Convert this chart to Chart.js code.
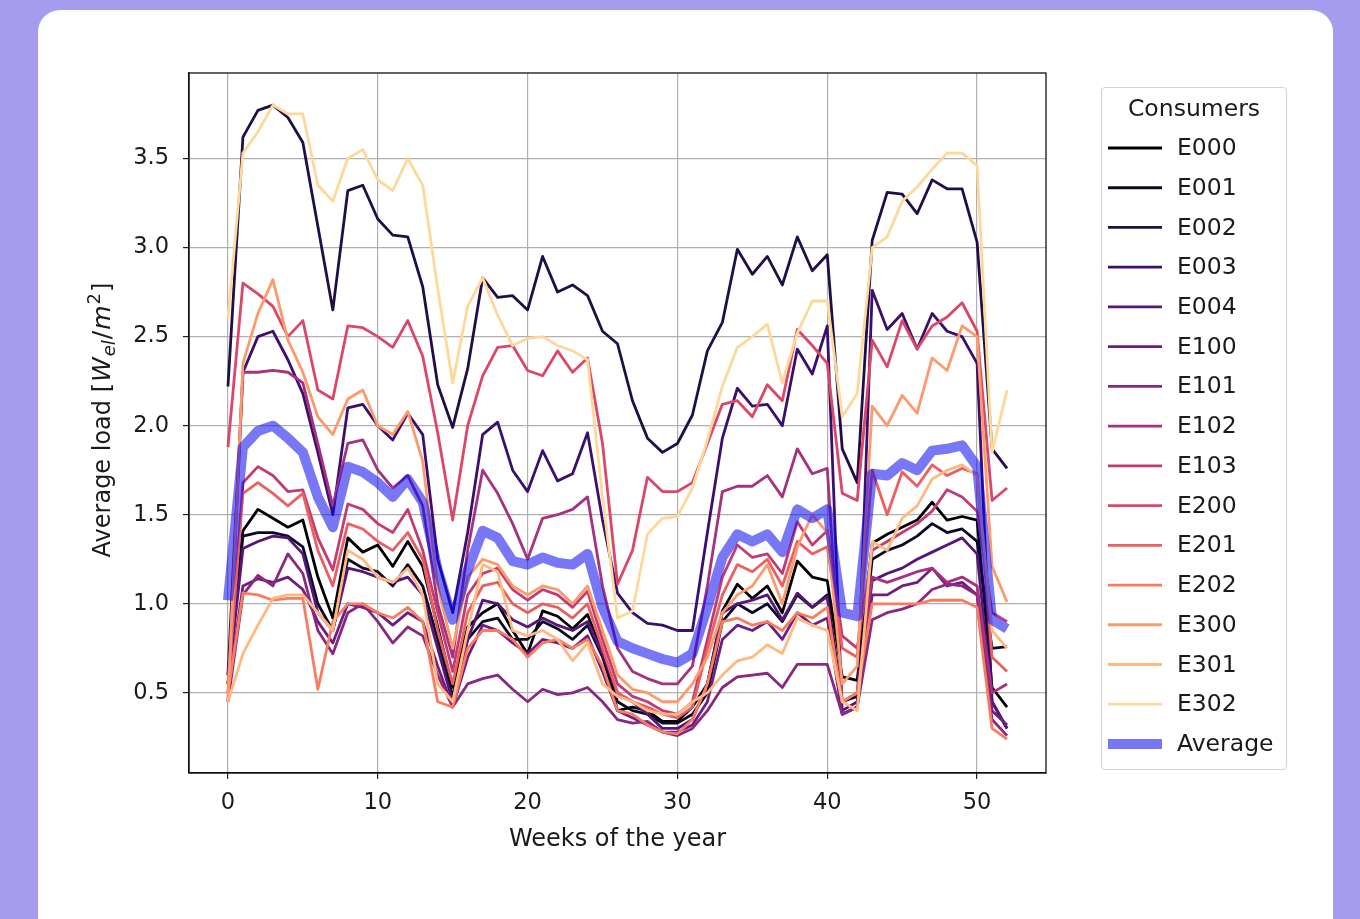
<!DOCTYPE html>
<html>
<head>
<meta charset="utf-8">
<script src="https://cdn.jsdelivr.net/npm/chart.js@4"></script>
<style>
html,body{margin:0;padding:0;background:#a59bef;}
body{width:1360px;height:919px;overflow:hidden;position:relative;}
.card{position:absolute;left:38px;top:10px;width:1295px;height:960px;background:#fff;border-radius:22px;}
#c{position:absolute;left:0;top:0;}
</style>
</head>
<body>
<div class="card"></div>
<canvas id="c" width="1360" height="919"></canvas>
<script>
// weeks on the x axis
const weeks = [0,1,2,3,4,5,6,7,8,9,10,11,12,13,14,15,16,17,18,19,20,21,22,23,24,25,26,27,28,29,30,31,32,33,34,35,36,37,38,39,40,41,42,43,44,45,46,47,48,49,50,51,52];
const xTicks = [0,10,20,30,40,50];
const yTicks = [0.5,1.0,1.5,2.0,2.5,3.0,3.5];

// average load per consumer [W_el/m2]
const E000 = [0.60,1.41,1.53,1.48,1.43,1.47,1.15,0.92,1.37,1.29,1.33,1.21,1.35,1.21,0.87,0.53,0.87,0.95,1.00,0.85,0.72,0.96,0.93,0.86,0.94,0.72,0.40,0.42,0.40,0.34,0.34,0.42,0.55,0.96,1.11,1.03,1.10,0.95,1.24,1.15,1.13,0.59,0.57,1.34,1.39,1.43,1.47,1.57,1.47,1.49,1.47,0.53,0.42];
const E001 = [0.55,1.38,1.40,1.40,1.38,1.32,1.00,0.85,1.25,1.20,1.18,1.10,1.22,1.10,0.80,0.48,0.80,0.90,0.92,0.80,0.80,0.90,0.86,0.80,0.88,0.70,0.45,0.40,0.38,0.33,0.33,0.38,0.50,0.90,1.00,0.95,1.00,0.90,1.05,0.98,1.05,0.45,0.48,1.25,1.30,1.33,1.38,1.45,1.40,1.42,1.35,0.75,0.76];
const E002 = [2.22,3.62,3.77,3.80,3.73,3.59,3.12,2.65,3.32,3.35,3.16,3.07,3.06,2.78,2.23,1.99,2.32,2.83,2.72,2.73,2.65,2.95,2.75,2.79,2.73,2.53,2.46,2.14,1.93,1.85,1.90,2.06,2.42,2.58,2.99,2.85,2.95,2.79,3.06,2.87,2.96,1.87,1.68,3.04,3.31,3.30,3.19,3.38,3.33,3.33,3.03,1.87,1.76];
const E003 = [0.60,2.30,2.50,2.53,2.37,2.18,1.85,1.50,2.10,2.12,2.00,1.92,2.07,1.95,1.25,0.95,1.40,1.95,2.02,1.75,1.63,1.86,1.69,1.73,1.96,1.47,1.06,0.95,0.89,0.88,0.85,0.85,1.40,1.93,2.21,2.11,2.12,2.00,2.43,2.29,2.56,0.38,0.42,2.76,2.54,2.63,2.43,2.63,2.53,2.50,2.35,0.45,0.30];
const E004 = [0.55,1.31,1.35,1.38,1.37,1.28,0.95,0.85,1.20,1.18,1.15,1.12,1.15,1.05,0.75,0.45,0.80,1.02,1.00,0.91,0.87,0.92,0.88,0.85,0.90,0.72,0.50,0.45,0.38,0.30,0.30,0.35,0.55,0.95,1.00,1.02,1.05,0.91,1.06,0.98,1.04,0.40,0.45,1.13,1.17,1.20,1.25,1.29,1.33,1.37,1.28,0.45,0.30];
const E100 = [0.50,1.10,1.14,1.12,1.15,1.08,0.90,0.78,1.00,0.98,0.95,0.88,0.95,0.90,0.65,0.42,0.70,0.88,0.85,0.78,0.72,0.80,0.78,0.75,0.82,0.62,0.40,0.36,0.32,0.28,0.28,0.32,0.45,0.80,0.88,0.85,0.90,0.80,0.95,0.88,0.92,0.38,0.42,1.05,1.05,1.10,1.12,1.20,1.10,1.12,1.05,0.40,0.32];
const E101 = [0.45,1.05,1.16,1.10,1.28,1.17,0.85,0.72,0.95,1.00,0.90,0.78,0.87,0.82,0.60,0.42,0.55,0.58,0.60,0.52,0.45,0.52,0.49,0.50,0.53,0.45,0.35,0.33,0.34,0.28,0.26,0.30,0.40,0.53,0.59,0.60,0.61,0.53,0.66,0.66,0.66,0.38,0.42,0.91,0.95,0.97,1.00,1.08,1.11,1.10,1.05,0.35,0.26];
const E102 = [0.45,2.30,2.30,2.31,2.30,2.24,1.90,1.55,1.90,1.92,1.75,1.65,1.72,1.55,1.00,0.70,1.30,1.75,1.62,1.45,1.25,1.48,1.50,1.53,1.60,1.10,0.75,0.62,0.58,0.55,0.55,0.65,1.10,1.63,1.66,1.66,1.72,1.60,1.87,1.73,1.76,0.45,0.50,1.15,1.12,1.15,1.18,1.20,1.12,1.15,1.10,0.50,0.55];
const E103 = [0.50,1.68,1.77,1.72,1.63,1.64,1.37,1.19,1.56,1.53,1.45,1.40,1.53,1.30,0.95,0.62,1.05,1.17,1.20,1.08,1.02,1.08,1.05,0.98,1.07,0.80,0.55,0.48,0.45,0.40,0.38,0.45,0.80,1.15,1.33,1.26,1.28,1.17,1.46,1.33,1.41,0.82,0.75,1.30,1.35,1.40,1.45,1.52,1.64,1.60,1.52,0.95,0.90];
const E200 = [1.88,2.80,2.74,2.67,2.50,2.59,2.20,2.15,2.56,2.55,2.50,2.44,2.59,2.39,1.96,1.47,2.00,2.28,2.44,2.45,2.31,2.28,2.42,2.30,2.38,1.90,1.11,1.30,1.71,1.63,1.63,1.68,1.90,2.12,2.14,2.05,2.23,2.14,2.54,2.45,2.35,1.62,1.58,2.48,2.33,2.59,2.43,2.56,2.61,2.69,2.53,1.58,1.65];
const E201 = [0.55,1.62,1.68,1.62,1.55,1.62,1.30,1.10,1.45,1.42,1.35,1.30,1.40,1.25,0.85,0.55,0.95,1.10,1.12,1.00,0.95,1.00,0.98,0.92,1.00,0.75,0.50,0.45,0.42,0.38,0.36,0.42,0.75,1.05,1.22,1.18,1.25,1.10,1.35,1.28,1.32,0.75,0.70,1.75,1.50,1.74,1.66,1.78,1.72,1.76,1.73,0.70,0.62];
const E202 = [0.50,1.06,1.05,1.02,1.03,1.03,0.52,0.90,1.00,1.00,0.95,0.92,0.98,0.90,0.45,0.42,0.75,0.85,0.85,0.80,0.70,0.78,0.80,0.75,0.80,0.65,0.40,0.38,0.32,0.28,0.27,0.35,0.55,0.90,0.92,0.88,0.90,0.85,0.95,0.92,0.98,0.45,0.50,1.00,1.00,1.00,1.00,1.02,1.02,1.02,0.98,0.30,0.24];
const E300 = [0.45,2.35,2.63,2.82,2.48,2.30,2.05,1.95,2.15,2.20,2.00,1.95,2.08,1.80,1.10,0.75,1.15,1.25,1.22,1.10,1.05,1.10,1.08,1.00,1.10,0.85,0.60,0.52,0.50,0.45,0.45,0.55,0.70,0.95,1.05,1.10,1.22,1.00,1.32,1.50,1.40,0.55,0.65,2.11,2.00,2.17,2.07,2.38,2.31,2.56,2.50,1.21,1.01];
const E301 = [0.45,0.72,0.88,1.03,1.05,1.05,0.95,0.85,1.30,1.25,1.15,1.12,1.20,1.05,0.55,0.45,0.85,1.22,1.18,0.85,0.82,0.85,0.80,0.68,0.78,0.55,0.48,0.45,0.40,0.38,0.38,0.45,0.50,0.60,0.68,0.70,0.77,0.72,0.92,0.88,0.85,0.45,0.40,1.35,1.30,1.48,1.55,1.70,1.75,1.78,1.72,0.85,0.75];
const E302 = [2.60,3.53,3.65,3.80,3.75,3.75,3.35,3.26,3.50,3.55,3.38,3.32,3.50,3.35,2.77,2.24,2.67,2.83,2.62,2.45,2.49,2.50,2.45,2.42,2.37,1.60,0.92,0.96,1.39,1.48,1.49,1.65,1.92,2.22,2.44,2.50,2.57,2.24,2.52,2.70,2.70,2.05,2.18,3.00,3.06,3.26,3.34,3.44,3.53,3.53,3.46,1.85,2.20];
const average = [1.02,1.88,1.97,2.00,1.93,1.85,1.60,1.43,1.77,1.74,1.68,1.60,1.70,1.57,1.19,0.91,1.19,1.41,1.37,1.24,1.22,1.26,1.23,1.22,1.28,0.98,0.79,0.75,0.72,0.69,0.67,0.72,0.98,1.26,1.39,1.35,1.39,1.29,1.53,1.48,1.53,0.95,0.93,1.73,1.72,1.79,1.75,1.86,1.87,1.89,1.77,0.91,0.86];

const consumerNames = ["E000","E001","E002","E003","E004","E100","E101","E102","E103","E200","E201","E202","E300","E301","E302"];
const consumerValues = [E000,E001,E002,E003,E004,E100,E101,E102,E103,E200,E201,E202,E300,E301,E302];

const FONT = '"DejaVu Sans", sans-serif';
const TXT = '#1a1a1a';
const AVG_COLOR = 'rgba(10,10,240,0.55)';

// magma colormap stops
const MAGMA = ['#000004','#140e36','#3b0f70','#641a80','#8c2981','#b73779','#de4968','#f7705c','#fe9f6d','#fecf92','#fcfdbf'];
function magma(t){
    const p = t*10, i = Math.min(9, Math.floor(p)), f = p - i;
    const a = MAGMA[i], b = MAGMA[i+1];
    const c = k => Math.round(parseInt(a.substr(k,2),16)*(1-f) + parseInt(b.substr(k,2),16)*f);
    return 'rgb(' + c(1) + ',' + c(3) + ',' + c(5) + ')';
}
const colors = consumerNames.map((n,i) => magma(i/14*0.92));

const datasets = consumerValues.map((vals,i) => ({
    label: consumerNames[i],
    data: weeks.map((w,k) => ({x:w, y:vals[k]})),
    borderColor: colors[i],
    borderWidth: 2.8,
    order: -i
}));
datasets.push({
    label: "Average",
    data: weeks.map((w,k) => ({x:w, y:average[k]})),
    borderColor: AVG_COLOR,
    borderWidth: 10,
    order: -20
});

// frame, axis titles and legend box
const decor = {
    id:'decor',
    afterDraw(chart){
        const ctx = chart.ctx, a = chart.chartArea;
        ctx.save();
        ctx.strokeStyle = '#111';
        ctx.lineWidth = 1.3;
        ctx.strokeRect(a.left, a.top, a.right-a.left, a.bottom-a.top);

        ctx.fillStyle = TXT;
        ctx.font = '24px ' + FONT;
        ctx.textAlign = 'center';
        ctx.textBaseline = 'middle';
        ctx.fillText('Weeks of the year', (a.left+a.right)/2, 840);

        // y title with math parts
        ctx.save();
        ctx.translate(102, (a.top+a.bottom)/2);
        ctx.rotate(-Math.PI/2);
        const parts = [
            {t:'Average load [', f:'24px ' + FONT, dy:0},
            {t:'W', f:'italic 25px ' + FONT, dy:0},
            {t:'el', f:'italic 18px ' + FONT, dy:5},
            {t:'/', f:'25px ' + FONT, dy:0},
            {t:'m', f:'italic 25px ' + FONT, dy:0},
            {t:'2', f:'18px ' + FONT, dy:-10},
            {t:']', f:'24px ' + FONT, dy:0}
        ];
        let total = 0;
        parts.forEach(p => { ctx.font = p.f; p.w = ctx.measureText(p.t).width; total += p.w; });
        let x = -total/2;
        ctx.textAlign = 'left';
        ctx.textBaseline = 'alphabetic';
        parts.forEach(p => { ctx.font = p.f; ctx.fillText(p.t, x, 8 + p.dy); x += p.w + 1; });
        ctx.restore();

        // legend
        const lx = 1101.5, ly = 87.5, lw = 185, lh = 682;
        ctx.beginPath();
        ctx.roundRect(lx, ly, lw, lh, 4);
        ctx.fillStyle = 'rgba(255,255,255,0.85)';
        ctx.fill();
        ctx.strokeStyle = '#d4d4d4';
        ctx.lineWidth = 1.2;
        ctx.stroke();

        ctx.fillStyle = TXT;
        ctx.font = '23.5px ' + FONT;
        ctx.textAlign = 'center';
        ctx.textBaseline = 'middle';
        ctx.fillText('Consumers', lx + lw/2, 110);

        const items = consumerNames.map((n,i) => ({n, c:colors[i], w:2.8}));
        items.push({n:'Average', c:AVG_COLOR, w:10});
        ctx.textAlign = 'left';
        items.forEach((it,i) => {
            const y = 148 + i*39.73;
            ctx.beginPath();
            ctx.moveTo(1108, y);
            ctx.lineTo(1162, y);
            ctx.strokeStyle = it.c;
            ctx.lineWidth = it.w;
            ctx.stroke();
            ctx.fillStyle = TXT;
            ctx.fillText(it.n, 1177, y + 1);
        });
        ctx.restore();
    }
};

new Chart(document.getElementById('c'), {
    type:'line',
    data:{datasets},
    options:{
        responsive:false,
        animation:false,
        layout:{padding:{left:80, top:73, right:314, bottom:66}},
        elements:{point:{radius:0}, line:{tension:0, borderJoinStyle:'round', fill:false}},
        plugins:{legend:{display:false}, tooltip:{enabled:false}},
        scales:{
            x:{
                type:'linear', min:-2.6, max:54.6,
                afterBuildTicks: s => { s.ticks = xTicks.map(v => ({value:v})); },
                afterFit: s => { s.height = 80; },
                ticks:{color:TXT, font:{family:FONT, size:22.5}, padding:11, maxRotation:0, callback: v => v},
                grid:{color:'#b0b0b0', lineWidth:1.2, tickColor:'#222', tickLength:6},
                border:{display:true, color:'#111', width:1.3}
            },
            y:{
                type:'linear', min:0.05, max:3.98,
                afterBuildTicks: s => { s.ticks = yTicks.map(v => ({value:v})); },
                afterFit: s => { s.width = 109; },
                ticks:{color:TXT, font:{family:FONT, size:22.5}, padding:14, callback: v => v.toFixed(1)},
                grid:{color:'#b0b0b0', lineWidth:1.2, tickColor:'#222', tickLength:6},
                border:{display:true, color:'#111', width:1.3}
            }
        }
    },
    plugins:[decor]
});
</script>
</body>
</html>
